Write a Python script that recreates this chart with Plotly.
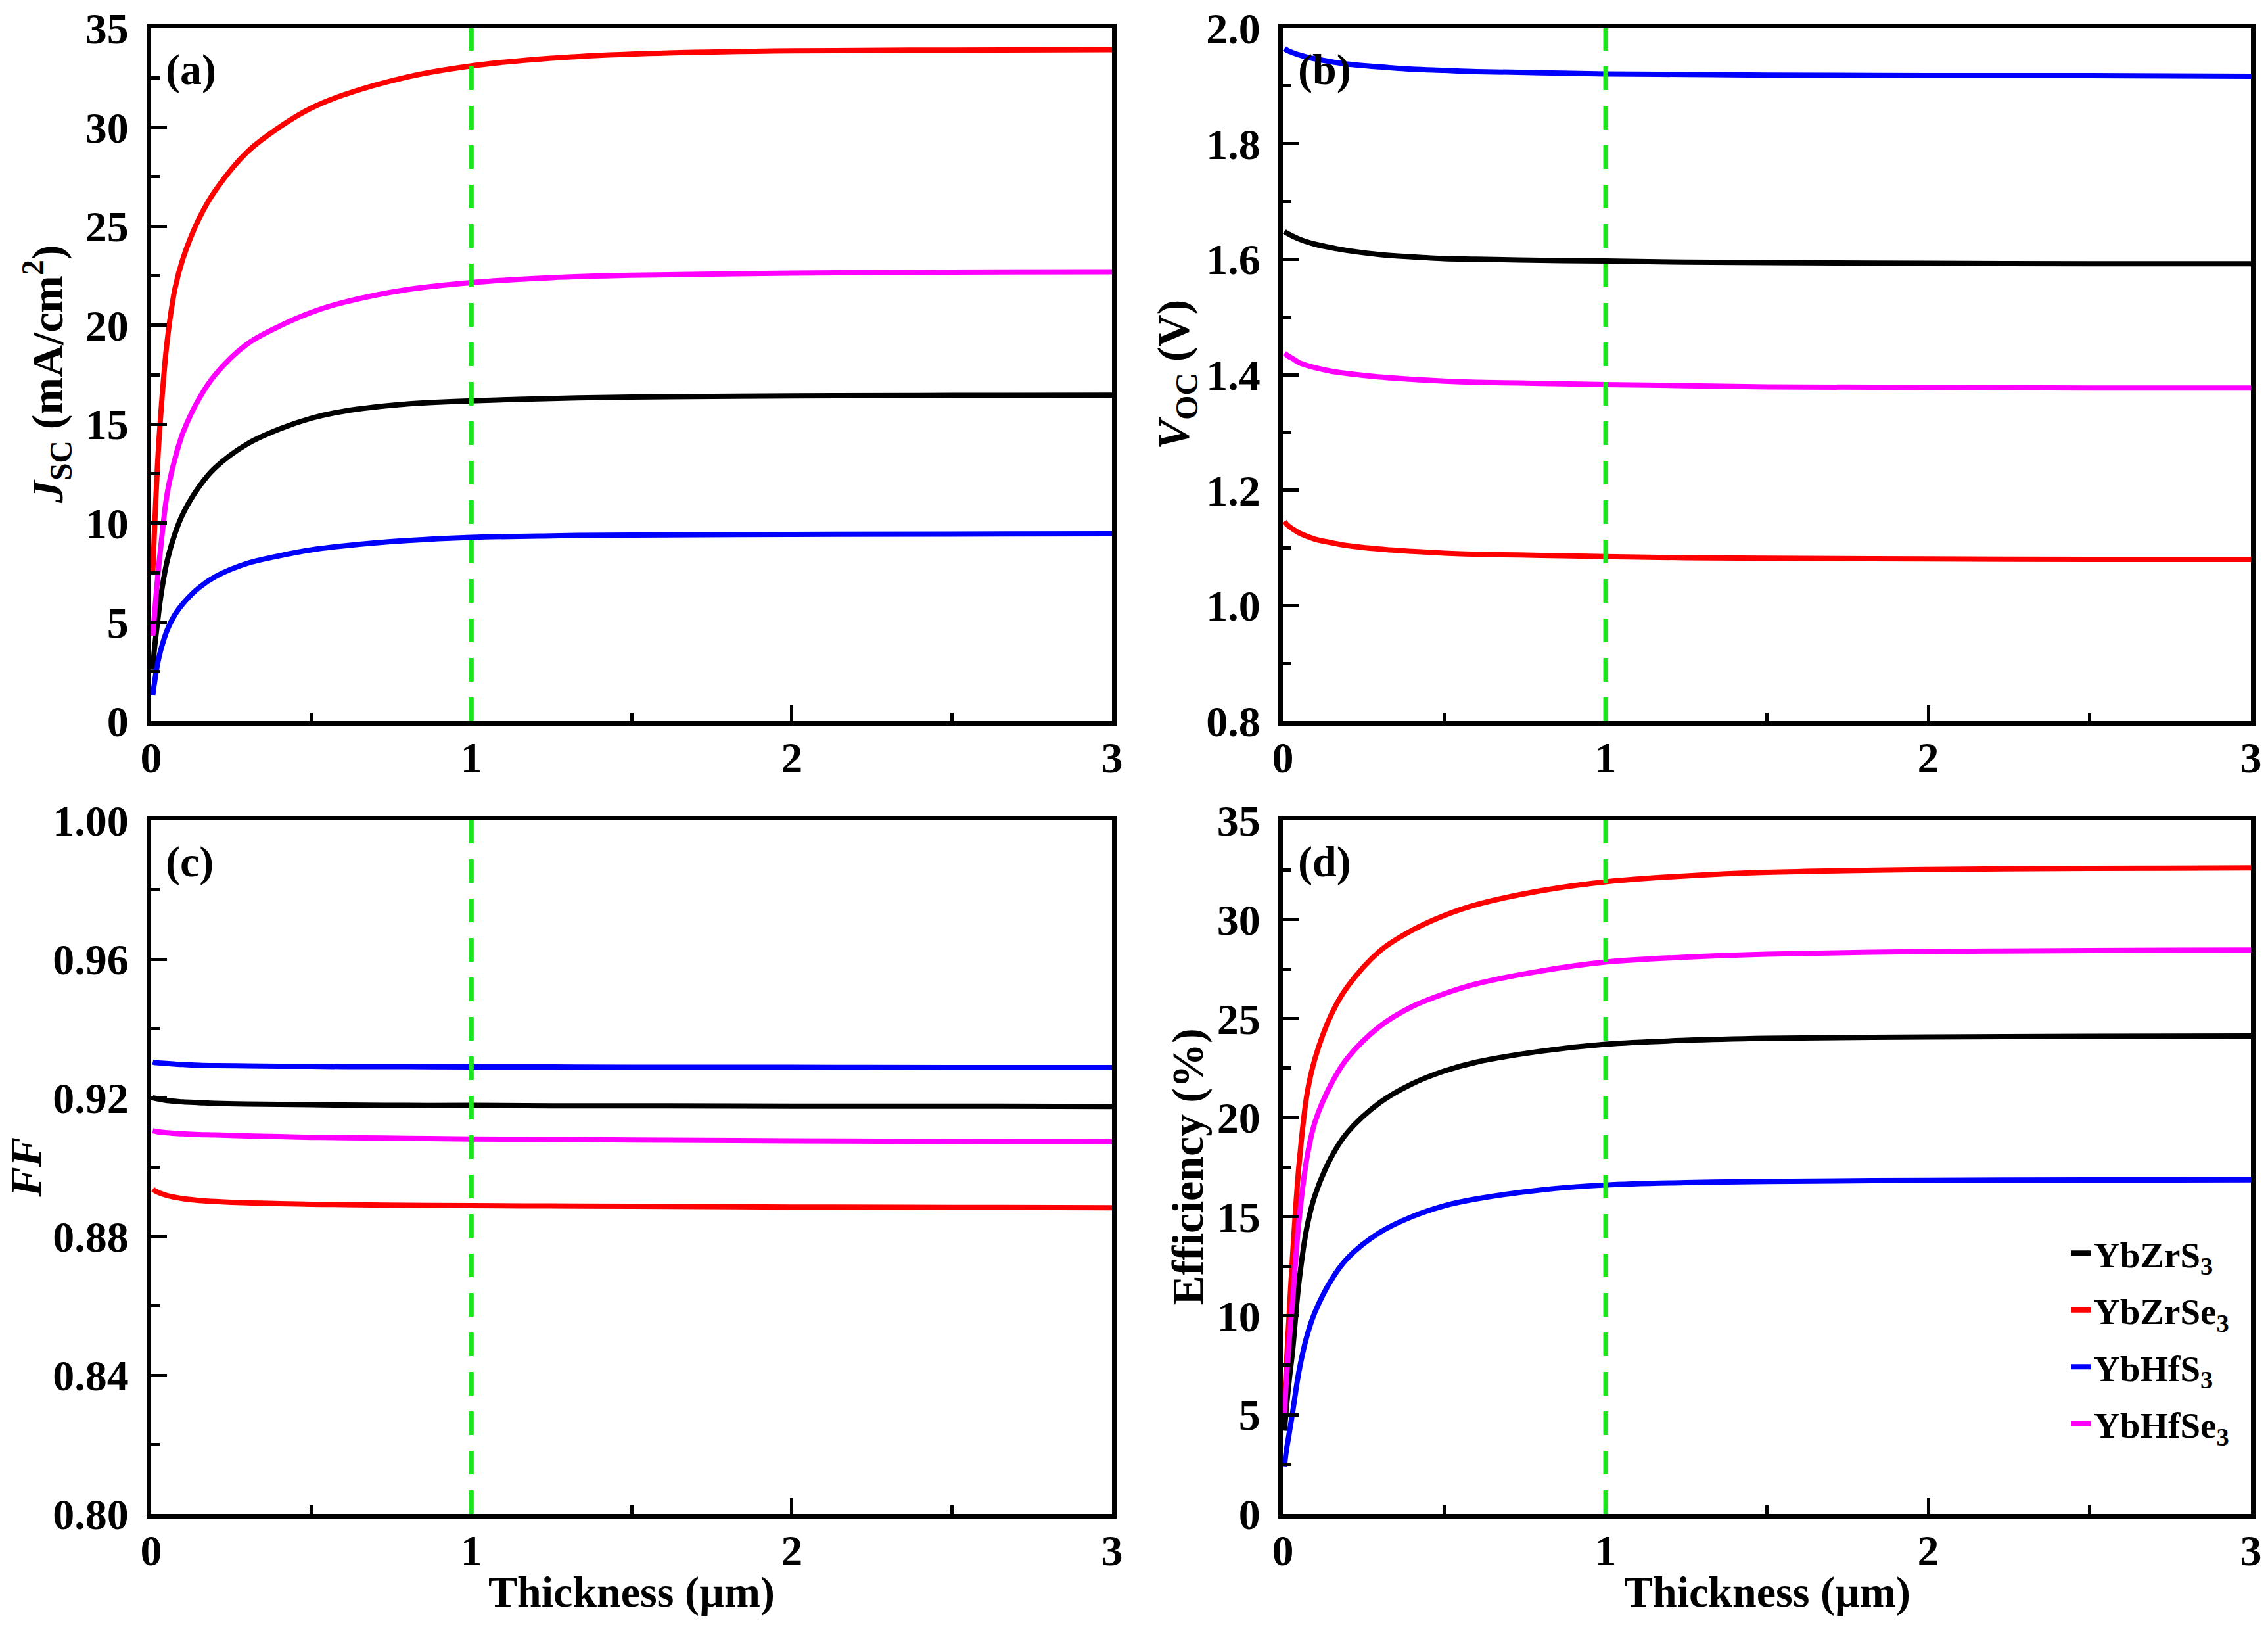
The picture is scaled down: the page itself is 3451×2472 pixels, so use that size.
import plotly.graph_objects as go

# absorber thickness (um)
thickness = [0.005, 0.01, 0.02, 0.03, 0.05, 0.075, 0.1, 0.15, 0.2, 0.3,
             0.4, 0.5, 0.6, 0.8, 1.0, 1.25, 1.5, 2.0, 2.5, 3.0]

materials = ["YbZrS<sub>3</sub>", "YbZrSe<sub>3</sub>", "YbHfS<sub>3</sub>", "YbHfSe<sub>3</sub>"]
colors = ["#000000", "#FF0000", "#0000FF", "#FF00FF"]

# (a) Jsc (mA/cm2)
jsc_YbZrS3 = [2.6, 3.6, 5.0, 6.3, 8.1, 9.5, 10.5, 11.85, 12.8, 14.0,
              14.75, 15.3, 15.65, 16.02, 16.18, 16.3, 16.37, 16.43, 16.45, 16.46]
jsc_YbZrSe3 = [7.5, 9.5, 13.0, 15.5, 19.2, 21.9, 23.4, 25.4, 26.8, 28.75,
               30.0, 30.97, 31.63, 32.54, 33.1, 33.49, 33.7, 33.86, 33.9, 33.92]
jsc_YbHfS3 = [1.3, 1.9, 2.9, 3.6, 4.6, 5.4, 5.95, 6.75, 7.3, 7.97,
              8.35, 8.65, 8.85, 9.12, 9.28, 9.36, 9.4, 9.43, 9.45, 9.46]
jsc_YbHfSe3 = [4.3, 5.3, 7.2, 8.8, 11.5, 13.3, 14.6, 16.3, 17.5, 19.05,
               19.95, 20.65, 21.15, 21.8, 22.15, 22.4, 22.52, 22.63, 22.68, 22.7]

# (b) Voc (V)
voc_YbZrS3 = [1.648, 1.646, 1.643, 1.640, 1.635, 1.630, 1.626, 1.620, 1.615, 1.608,
              1.604, 1.601, 1.600, 1.598, 1.597, 1.595, 1.594, 1.593, 1.592, 1.592]
voc_YbZrSe3 = [1.146, 1.142, 1.137, 1.133, 1.126, 1.120, 1.115, 1.109, 1.104, 1.098,
               1.094, 1.091, 1.089, 1.087, 1.085, 1.083, 1.082, 1.081, 1.080, 1.080]
voc_YbHfS3 = [1.965, 1.963, 1.960, 1.958, 1.954, 1.950, 1.947, 1.942, 1.938, 1.933,
              1.929, 1.927, 1.925, 1.923, 1.921, 1.920, 1.919, 1.918, 1.918, 1.917]
voc_YbHfSe3 = [1.437, 1.435, 1.431, 1.428, 1.421, 1.416, 1.412, 1.406, 1.402, 1.396,
               1.392, 1.389, 1.387, 1.385, 1.383, 1.381, 1.379, 1.378, 1.377, 1.377]

# (c) FF
ff_YbZrS3 = [0.9200, 0.9199, 0.9197, 0.9195, 0.9192, 0.9190, 0.9188, 0.9186, 0.9184, 0.9182,
             0.9181, 0.9180, 0.9179, 0.9178, 0.9178, 0.9177, 0.9177, 0.9176, 0.9176, 0.9175]
ff_YbZrSe3 = [0.8936, 0.8933, 0.8928, 0.8924, 0.8918, 0.8913, 0.8909, 0.8904, 0.8901, 0.8897,
              0.8895, 0.8893, 0.8892, 0.8890, 0.8889, 0.8888, 0.8887, 0.8885, 0.8884, 0.8883]
ff_YbHfS3 = [0.9303, 0.9302, 0.9301, 0.9300, 0.9299, 0.9297, 0.9296, 0.9294, 0.9293, 0.9292,
             0.9291, 0.9291, 0.9290, 0.9290, 0.9289, 0.9289, 0.9288, 0.9288, 0.9287, 0.9287]
ff_YbHfSe3 = [0.9105, 0.9104, 0.9102, 0.9101, 0.9099, 0.9097, 0.9096, 0.9094, 0.9093, 0.9090,
              0.9088, 0.9086, 0.9085, 0.9083, 0.9081, 0.9080, 0.9078, 0.9076, 0.9074, 0.9073]

# (d) efficiency (%)
eff_YbZrS3 = [4.2, 5.2, 6.8, 8.2, 11.7, 14.5, 16.1, 18.0, 19.25, 20.75,
              21.7, 22.35, 22.8, 23.35, 23.7, 23.9, 24.0, 24.07, 24.1, 24.12]
eff_YbZrSe3 = [5.5, 7.2, 10.2, 13.0, 17.6, 21.2, 23.0, 25.2, 26.6, 28.4,
               29.45, 30.2, 30.75, 31.45, 31.9, 32.2, 32.38, 32.52, 32.58, 32.6]
eff_YbHfS3 = [2.4, 3.1, 4.1, 5.1, 7.2, 9.0, 10.2, 11.8, 12.9, 14.2,
              15.0, 15.55, 15.9, 16.35, 16.6, 16.72, 16.78, 16.83, 16.85, 16.86]
eff_YbHfSe3 = [5.0, 6.5, 8.8, 10.7, 14.8, 18.0, 19.8, 21.7, 23.0, 24.6,
               25.6, 26.25, 26.75, 27.4, 27.85, 28.1, 28.25, 28.38, 28.43, 28.46]

optimal_thickness = 1.0

x_ticks = [0, 1, 2, 3]
jsc_ticks = [0, 5, 10, 15, 20, 25, 30, 35]
voc_ticks = [0.8, 1.0, 1.2, 1.4, 1.6, 1.8, 2.0]
ff_ticks = [0.80, 0.84, 0.88, 0.92, 0.96, 1.00]
eff_ticks = [0, 5, 10, 15, 20, 25, 30, 35]

panels = [
    ("x", "y", [jsc_YbZrS3, jsc_YbZrSe3, jsc_YbHfS3, jsc_YbHfSe3]),
    ("x2", "y2", [voc_YbZrS3, voc_YbZrSe3, voc_YbHfS3, voc_YbHfSe3]),
    ("x3", "y3", [ff_YbZrS3, ff_YbZrSe3, ff_YbHfS3, ff_YbHfSe3]),
    ("x4", "y4", [eff_YbZrS3, eff_YbZrSe3, eff_YbHfS3, eff_YbHfSe3]),
]

FONT = "Liberation Serif"
W, H = 3451, 2472

fig = go.Figure()
for xa, ya, series in panels:
    for i, vals in enumerate(series):
        fig.add_trace(go.Scatter(
            x=thickness, y=vals, xaxis=xa, yaxis=ya, mode="lines",
            name=materials[i], legendgroup=materials[i],
            showlegend=(xa == "x4"),
            line=dict(color=colors[i], width=8, shape="spline", smoothing=1.0),
        ))

# dashed marker at the chosen thickness
for xa, ya, _ in panels:
    fig.add_shape(type="line", x0=optimal_thickness, x1=optimal_thickness,
                  xref=xa, yref=ya + " domain", y0=0, y1=1,
                  line=dict(color="rgb(30,230,30)", width=7, dash="36px,24px"))

ax_common = dict(showline=True, mirror=True, linecolor="black", linewidth=7,
                 showgrid=False, zeroline=False, automargin=False,
                 ticks="inside", ticklen=24, tickwidth=5, tickcolor="black",
                 tickfont=dict(family=FONT, size=66, color="black", weight="bold"))

left_dom = [230 / W, 1692 / W]
right_dom = [1952 / W, 3425 / W]
top_dom = [1 - 1097 / H, 1 - 43 / H]
bot_dom = [1 - 2303 / H, 1 - 1248 / H]

def xaxis(dom, anchor):
    return dict(ax_common, domain=dom, anchor=anchor, range=[0, 3],
                tickvals=x_ticks, ticklabelstandoff=-8,
                minor=dict(dtick=0.5, tick0=0, ticks="inside", ticklen=13,
                           tickwidth=5, tickcolor="black"))

def yaxis(dom, anchor, rng, tv, fmt, minor):
    return dict(ax_common, domain=dom, anchor=anchor, range=rng, tickvals=tv,
                tickformat=fmt, ticklabelstandoff=14,
                minor=dict(dtick=minor, ticks="inside", ticklen=13,
                           tickwidth=5, tickcolor="black"))

annotations = []
for ref, lab in [("", "(a)"), ("2", "(b)"), ("3", "(c)"), ("4", "(d)")]:
    annotations.append(dict(text="<b>" + lab + "</b>", xref="x" + ref + " domain",
                            yref="y" + ref + " domain", x=0.014, y=0.94,
                            xanchor="left", yanchor="middle", showarrow=False,
                            font=dict(family=FONT, size=66, color="black")))

ytitles = [
    ("<b><i>J</i><sub>SC</sub> (mA/cm<sup>2</sup>)</b>", 72, "y"),
    ("<b><i>V</i><sub>OC</sub> (V)</b>", 1790, "y2"),
    ("<b><i>FF</i></b>", 38, "y3"),
    ("<b>Efficiency (%)</b>", 1806, "y4"),
]
for txt, px, ya in ytitles:
    annotations.append(dict(text=txt, xref="paper", yref=ya + " domain", x=px / W, y=0.5,
                            xanchor="center", yanchor="middle", textangle=-90,
                            showarrow=False,
                            font=dict(family=FONT, size=68, color="black")))

for xa in ["x3", "x4"]:
    annotations.append(dict(text="<b>Thickness (\u00b5m)</b>", xref=xa + " domain",
                            yref="paper", x=0.5, y=1 - 2422 / H,
                            xanchor="center", yanchor="middle", showarrow=False,
                            font=dict(family=FONT, size=66, color="black")))

fig.update_layout(
    width=W, height=H,
    margin=dict(l=0, r=0, t=0, b=0, autoexpand=False),
    paper_bgcolor="white", plot_bgcolor="white",
    font=dict(family=FONT, color="black"),
    xaxis=xaxis(left_dom, "y"), yaxis=yaxis(top_dom, "x", [0, 35], jsc_ticks, "d", 2.5),
    xaxis2=xaxis(right_dom, "y2"), yaxis2=yaxis(top_dom, "x2", [0.8, 2.0], voc_ticks, ".1f", 0.1),
    xaxis3=xaxis(left_dom, "y3"), yaxis3=yaxis(bot_dom, "x3", [0.80, 1.00], ff_ticks, ".2f", 0.02),
    xaxis4=xaxis(right_dom, "y4"), yaxis4=yaxis(bot_dom, "x4", [0, 35], eff_ticks, "d", 2.5),
    legend=dict(x=3146 / W, y=1 - 1864 / H, xanchor="left", yanchor="top",
                bgcolor="rgba(0,0,0,0)", borderwidth=0, tracegroupgap=12,
                font=dict(family=FONT, size=55, color="black", weight="bold")),
    annotations=annotations,
)

fig.write_html("out.html", config={"displayModeBar": False},
               post_script="document.body.style.margin='0px';")
